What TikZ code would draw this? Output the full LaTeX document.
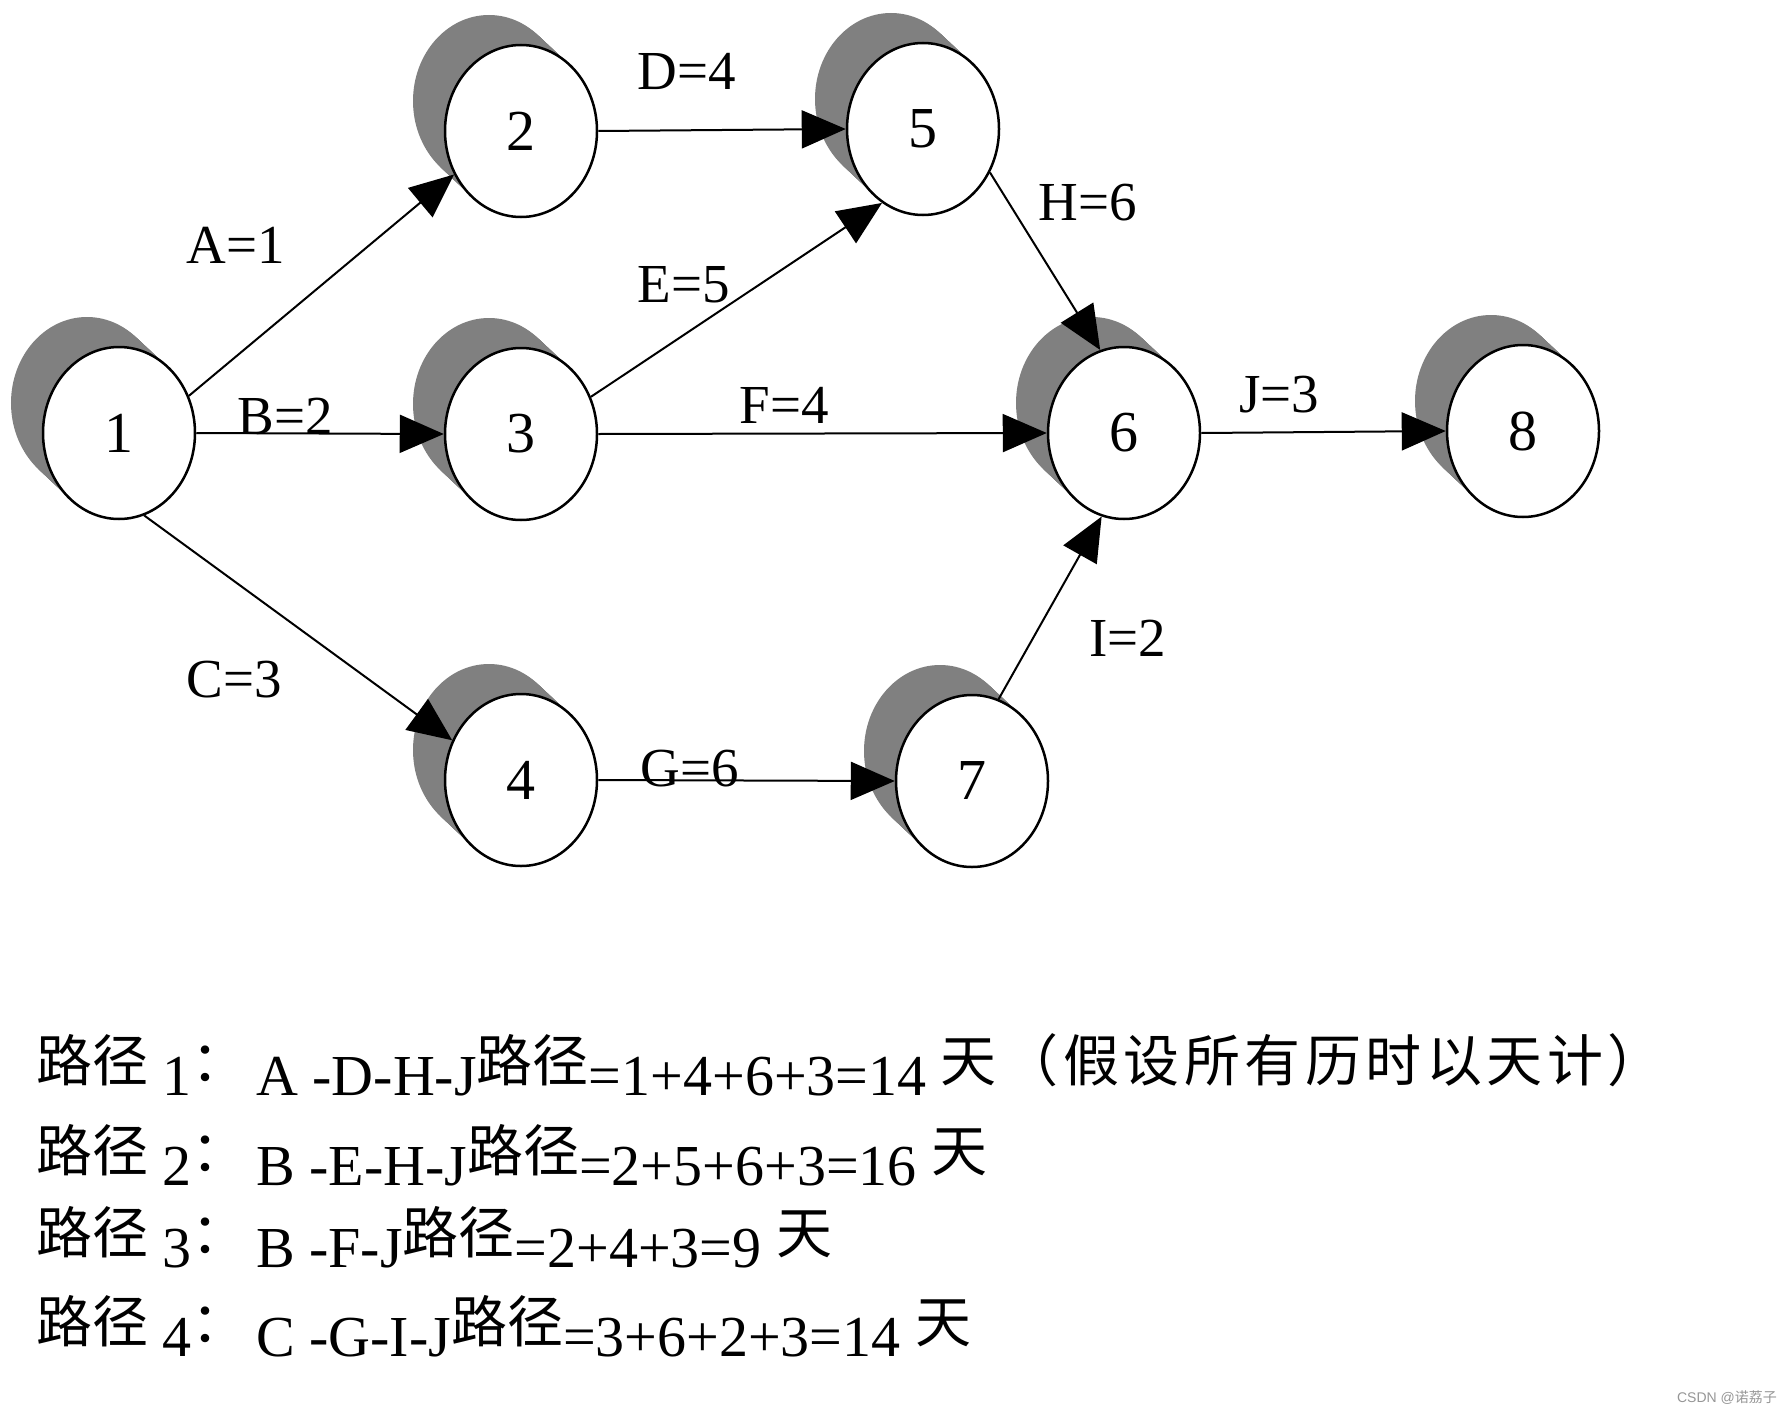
\documentclass[tikz,border=0pt]{standalone}
\usepackage{fontspec}
\setmainfont{Liberation Serif}
\newfontfamily\cjk{Noto Sans CJK SC}
\newfontfamily\cjkwide{Noto Sans CJK SC}[LetterSpace=8]
\newfontfamily\wmfont{Liberation Sans}
\usetikzlibrary{shapes.geometric,arrows.meta,calc}
\definecolor{shadowgray}{RGB}{128,128,128}
\tikzset{
  evt/.style={ellipse, draw=black, line width=2.5pt, fill=white, inner sep=0pt,
    minimum width=152pt, minimum height=172pt, font=\fontsize{58}{60}\selectfont},
  arr/.style={line width=2pt, -{Triangle[length=44pt,width=38pt]}},
  elab/.style={font=\fontsize{55}{58}\selectfont, inner sep=0pt},
  pathline/.style={anchor=base west, inner sep=0pt, font=\fontsize{58}{60}\selectfont}
}
\newcommand\netnode[3]{%
  \foreach \t in {0,0.05,...,1.0001}
    \fill[shadowgray] (#2) ++(-32*\t,-30*\t) ellipse [x radius=76pt, y radius=86pt];
  \node[evt] (#1) at (#2) {#3};
}
\newcommand\cj[1]{\raisebox{14pt}{\cjk\fontsize{56}{58}\selectfont #1}}
\newcommand\cjw[1]{\raisebox{14pt}{\cjkwide\fontsize{56}{58}\selectfont #1}}
\begin{document}
\begin{tikzpicture}[x=1pt,y=-1pt]
\useasboundingbox[fill=white] (0,0) rectangle (1787,1418);
\netnode{n1}{119,433}{1}
\netnode{n2}{521,131}{2}
\netnode{n3}{521,434}{3}
\netnode{n4}{521,780}{4}
\netnode{n5}{923,129}{5}
\netnode{n6}{1124,433}{6}
\netnode{n7}{972,781}{7}
\netnode{n8}{1523,431}{8}

\draw[arr] (n1.28) -- (n2.213);
\draw[arr] (n1.east) -- (n3.west);
\draw[arr] (n1.287) -- (n4.150);
\draw[arr] (n2.east) -- (n5.west);
\draw[arr] (n3.28) -- (n5.241);
\draw[arr] (n3.east) -- (n6.west);
\draw[arr] (n5.-33) -- (n6.106);
\draw[arr] (n4.east) -- (n7.west);
\draw[arr] (n7.72) -- (n6.255);
\draw[arr] (n6.east) -- (n8.west);

\node[elab] (lA) at (236,245) {A=1};
\node[elab] (lB) at (285,416) {B=2};
\node[elab] (lC) at (234,680) {C=3};
\node[elab] (lD) at (687,71) {D=4};
\node[elab] (lE) at (684,285) {E=5};
\node[elab] (lF) at (784,405) {F=4};
\node[elab] (lG) at (690,769) {G=6};
\node[elab] (lH) at (1088,203) {H=6};
\node[elab] (lI) at (1128,638) {I=2};
\node[elab] (lJ) at (1279,395) {J=3};

\node[pathline] (p1) at (36,1095) {\cj{路径} 1\cj{：}\hspace{-6pt} A -D-H-J\cj{路径}=1+4+6+3=14 \cj{天}\hspace{6pt}\cjw{（假设所有历时以天计）}};
\node[pathline] (p2) at (36,1185) {\cj{路径} 2\cj{：}\hspace{-6pt} B -E-H-J\cj{路径}=2+5+6+3=16 \cj{天}};
\node[pathline] (p3) at (36,1267) {\cj{路径} 3\cj{：}\hspace{-6pt} B -F-J\cj{路径}=2+4+3=9 \cj{天}};
\node[pathline] (p4) at (36,1356) {\cj{路径} 4\cj{：}\hspace{-6pt} C -G-I-J\cj{路径}=3+6+2+3=14 \cj{天}};

\node[text={rgb,255:red,150;green,150;blue,150}, inner sep=0pt] (wm) at (1727,1398) {\wmfont\fontsize{14}{16}\selectfont CSDN @{\cjk 诺荔子}};
\end{tikzpicture}
\end{document}
